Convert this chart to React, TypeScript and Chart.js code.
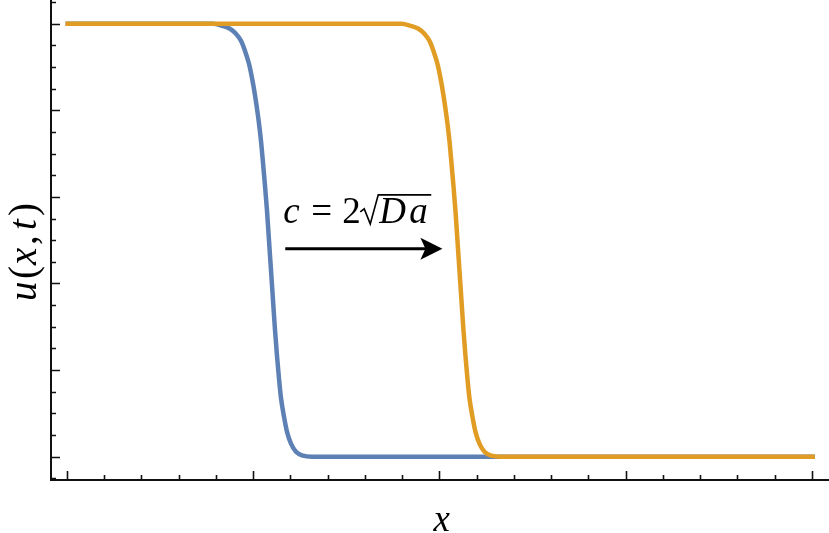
import React, { useEffect, useRef } from "react";
import { Chart, registerables } from "chart.js";

Chart.register(...registerables);

// ---- data ----
const xRange = [-2.15, 102.3];
const yRange = [-0.054, 1.055];
const xMajorTicks = [0, 25, 50, 75, 100];
const xMinorTicks = [5, 10, 15, 20, 30, 35, 40, 45, 55, 60, 65, 70, 80, 85, 90, 95];
const yMajorTicks = [0, 0.2, 0.4, 0.6, 0.8, 1.0];
const yMinorTicks = [-0.05, 0.05, 0.1, 0.15, 0.25, 0.3, 0.35, 0.45, 0.5, 0.55, 0.65, 0.7, 0.75, 0.85, 0.9, 0.95, 1.05];

const blueX = [-0.2, 17, 19.6, 20.81, 21.88, 22.68, 23.36, 23.89, 24.43, 24.83, 25.23, 25.64, 26.04, 26.31, 26.58, 26.85, 27.11,
  27.38, 27.65, 27.92, 28.19, 28.46, 28.72, 29.13, 29.53, 30.07, 30.74, 31.68, 32.89, 36, 100.4];
const blueY = [1, 1, 1.0, 0.9954, 0.9885, 0.9769, 0.9607, 0.9376, 0.9076, 0.8753, 0.836, 0.7875, 0.7298, 0.679, 0.6259, 0.5681, 0.5012,
  0.4319, 0.3626, 0.2933, 0.2333, 0.1801, 0.1363, 0.0924, 0.0577, 0.03, 0.0115, 0.0023, 0, 0, 0];

const orangeX = [-0.2, 42, 44.9, 46.11, 47.18, 47.98, 48.66, 49.19, 49.73, 50.13, 50.53, 50.94, 51.34, 51.61, 51.88, 52.15, 52.41,
  52.68, 52.95, 53.22, 53.49, 53.76, 54.02, 54.43, 54.83, 55.37, 56.04, 56.98, 58.19, 61, 100.4];
const orangeY = [1, 1, 1.0, 0.9954, 0.9885, 0.9769, 0.9607, 0.9376, 0.9076, 0.8753, 0.836, 0.7875, 0.7298, 0.679, 0.6259, 0.5681, 0.5012,
  0.4319, 0.3626, 0.2933, 0.2333, 0.1801, 0.1363, 0.0924, 0.0577, 0.03, 0.0115, 0.0023, 0, 0, 0];

const arrowFrom = { x: 29.3, y: 0.48 };
const arrowTo = { x: 50.4, y: 0.48 };

const blueColor = "#5E81B5";
const orangeColor = "#E19C24";
const axisColor = "#111111";

const SERIF = '"Liberation Serif", "DejaVu Serif", serif';

function drawPieces(ctx: CanvasRenderingContext2D, pieces: { t: string; it: boolean; dx: number }[], size: number) {
  for (const p of pieces) {
    ctx.font = `${p.it ? "italic " : ""}${size}px ${SERIF}`;
    ctx.fillText(p.t, p.dx, 0);
  }
}

const framePlugin = {
  id: "frame",
  afterDraw(chart: any) {
    const { ctx, chartArea: a, scales } = chart;
    const xs = scales.x;
    const ys = scales.y;
    ctx.save();
    ctx.strokeStyle = axisColor;
    ctx.fillStyle = axisColor;
    // axis lines
    ctx.lineWidth = 2;
    ctx.beginPath();
    ctx.moveTo(a.left, a.top);
    ctx.lineTo(a.left, a.bottom + 1);
    ctx.moveTo(a.left - 1, a.bottom);
    ctx.lineTo(a.right, a.bottom);
    ctx.stroke();
    // ticks (inward)
    ctx.lineWidth = 1.6;
    ctx.beginPath();
    const xt = (v: number, len: number) => {
      const px = Math.round(xs.getPixelForValue(v)) + 0.5;
      ctx.moveTo(px, a.bottom);
      ctx.lineTo(px, a.bottom - len);
    };
    const yt = (v: number, len: number) => {
      const py = Math.round(ys.getPixelForValue(v)) + 0.5;
      ctx.moveTo(a.left, py);
      ctx.lineTo(a.left + len, py);
    };
    xMajorTicks.forEach((v) => xt(v, 9));
    xMinorTicks.forEach((v) => xt(v, 5));
    yMajorTicks.forEach((v) => yt(v, 9));
    yMinorTicks.forEach((v) => yt(v, 5));
    ctx.stroke();

    // arrow
    const ax0 = xs.getPixelForValue(arrowFrom.x);
    const ax1 = xs.getPixelForValue(arrowTo.x);
    const ay = ys.getPixelForValue(arrowFrom.y);
    ctx.fillStyle = "#000";
    ctx.strokeStyle = "#000";
    ctx.lineWidth = 3;
    ctx.beginPath();
    ctx.moveTo(ax0, ay);
    ctx.lineTo(ax1 - 14, ay);
    ctx.stroke();
    ctx.beginPath();
    ctx.moveTo(ax1, ay);
    ctx.lineTo(ax1 - 22, ay - 11);
    ctx.lineTo(ax1 - 17, ay);
    ctx.lineTo(ax1 - 22, ay + 11);
    ctx.closePath();
    ctx.fill();

    // annotation c = 2 sqrt(Da)
    ctx.save();
    ctx.translate(ax0, ay - 26);
    ctx.textBaseline = "alphabetic";
    ctx.textAlign = "left";
    drawPieces(
      ctx,
      [
        { t: "c", it: true, dx: -2 },
        { t: "=", it: false, dx: 26 },
        { t: "2", it: false, dx: 57 },
        { t: "D", it: true, dx: 94 },
        { t: "a", it: true, dx: 124 },
      ],
      37
    );
    ctx.lineWidth = 1.6;
    ctx.beginPath();
    ctx.moveTo(75, -11);
    ctx.lineTo(79, -14);
    ctx.lineTo(85, 1);
    ctx.lineTo(93, -28);
    ctx.lineTo(146, -28);
    ctx.stroke();
    ctx.restore();

    // y label u(x, t)
    ctx.save();
    ctx.translate(36, 249);
    ctx.rotate(-Math.PI / 2);
    ctx.textBaseline = "alphabetic";
    ctx.fillStyle = "#000";
    drawPieces(
      ctx,
      [
        { t: "u", it: true, dx: -52 },
        { t: "(", it: false, dx: -30 },
        { t: "x", it: true, dx: -16 },
        { t: ",", it: false, dx: 4 },
        { t: "t", it: true, dx: 19 },
        { t: ")", it: false, dx: 33 },
      ],
      39
    );
    ctx.restore();

    // x label
    ctx.save();
    ctx.fillStyle = "#000";
    ctx.textAlign = "center";
    ctx.textBaseline = "alphabetic";
    ctx.font = `italic 37px ${SERIF}`;
    ctx.fillText("x", xs.getPixelForValue(50.3), 531);
    ctx.restore();

    ctx.restore();
  },
};

export default function App() {
  const canvasRef = useRef<HTMLCanvasElement | null>(null);

  useEffect(() => {
    const canvas = canvasRef.current;
    if (!canvas) return;
    const chart = new Chart(canvas, {
      type: "line",
      data: {
        datasets: [
          {
            label: "t1",
            data: blueX.map((x, i) => ({ x, y: blueY[i] })),
            borderColor: blueColor,
            borderWidth: 4.5,
            pointRadius: 0,
            cubicInterpolationMode: "monotone",
            fill: false,
            order: 2,
          },
          {
            label: "t2",
            data: orangeX.map((x, i) => ({ x, y: orangeY[i] })),
            borderColor: orangeColor,
            borderWidth: 4.5,
            pointRadius: 0,
            cubicInterpolationMode: "monotone",
            fill: false,
            order: 1,
          },
        ],
      },
      options: {
        animation: false,
        responsive: false,
        maintainAspectRatio: false,
        devicePixelRatio: 1,
        layout: { padding: { left: 51, top: 0, right: 0, bottom: 53 } },
        plugins: { legend: { display: false }, tooltip: { enabled: false } },
        elements: { line: { borderCapStyle: "butt", borderJoinStyle: "round" } },
        scales: {
          x: { type: "linear", min: xRange[0], max: xRange[1], display: false },
          y: { type: "linear", min: yRange[0], max: yRange[1], display: false },
        },
      },
      plugins: [framePlugin],
    } as any);
    return () => chart.destroy();
  }, []);

  return (
    <div style={{ position: "fixed", left: 0, top: 0, width: 829, height: 533, background: "#fff" }}>
      <canvas ref={canvasRef} width={829} height={533} style={{ width: 829, height: 533, display: "block" }} />
    </div>
  );
}
